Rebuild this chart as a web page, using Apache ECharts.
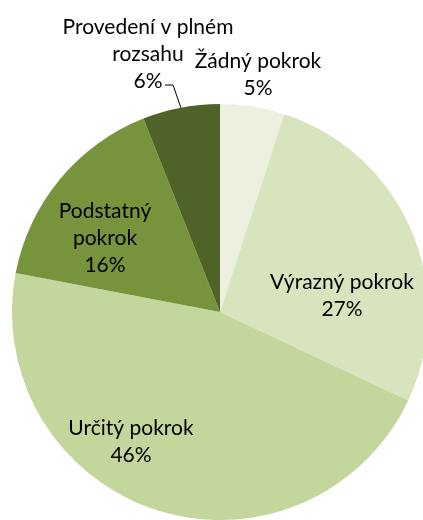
<!DOCTYPE html>
<html>
<head>
<meta charset="utf-8">
<script src="https://cdn.jsdelivr.net/npm/echarts@6/dist/echarts.min.js"></script>
<style>
html,body{margin:0;padding:0;background:#fff;}
#c{width:423px;height:520px;}
</style>
</head>
<body>
<div id="c"></div>
<script>
var categories = ['Žádný pokrok', 'Výrazný pokrok', 'Určitý pokrok', 'Podstatný pokrok', 'Provedení v plném rozsahu'];
var values = [5, 27, 46, 16, 6];
var labelTexts = ['Žádný pokrok\n5%', 'Výrazný pokrok\n27%', 'Určitý pokrok\n46%', 'Podstatný\npokrok\n16%', 'Provedení v plném\nrozsahu\n6%'];
var colors = ['#EBF1DE', '#D7E4BD', '#C3D69B', '#77933C', '#4F6228'];

var labelSpots = [
  {x: 258, y: 75},
  {x: 342, y: 296},
  {x: 131, y: 442},
  {x: 105, y: 238},
  {x: 148, y: 54}
];

var chart = echarts.init(document.getElementById('c'), null, {renderer: 'canvas'});
var data = categories.map(function (c, i) {
  var isOut = (i === 0 || i === 4);
  return {
    name: c,
    value: values[i],
    itemStyle: {color: colors[i]},
    label: {
      formatter: labelTexts[i],
      position: isOut ? 'outside' : 'inside'
    },
    labelLine: {show: i === 4}
  };
});

chart.setOption({
  animation: false,
  series: [{
    type: 'pie',
    center: [220, 312],
    radius: 208,
    startAngle: 90,
    clockwise: true,
    avoidLabelOverlap: false,
    itemStyle: {borderWidth: 0},
    label: {
      show: true,
      color: '#000',
      fontFamily: 'Lato',
      fontSize: 21,
      lineHeight: 27,
      align: 'center'
    },
    labelLine: {
      lineStyle: {color: '#000', width: 1}
    },
    emphasis: {disabled: true},
    labelLayout: function (p) {
      var s = labelSpots[p.dataIndex];
      var r = {x: s.x, y: s.y, align: 'center', verticalAlign: 'middle'};
      if (p.dataIndex === 4) {
        r.labelLinePoints = [[181, 108], [173, 85], [165, 85]];
      }
      return r;
    },
    data: data
  }]
});
</script>
</body>
</html>
